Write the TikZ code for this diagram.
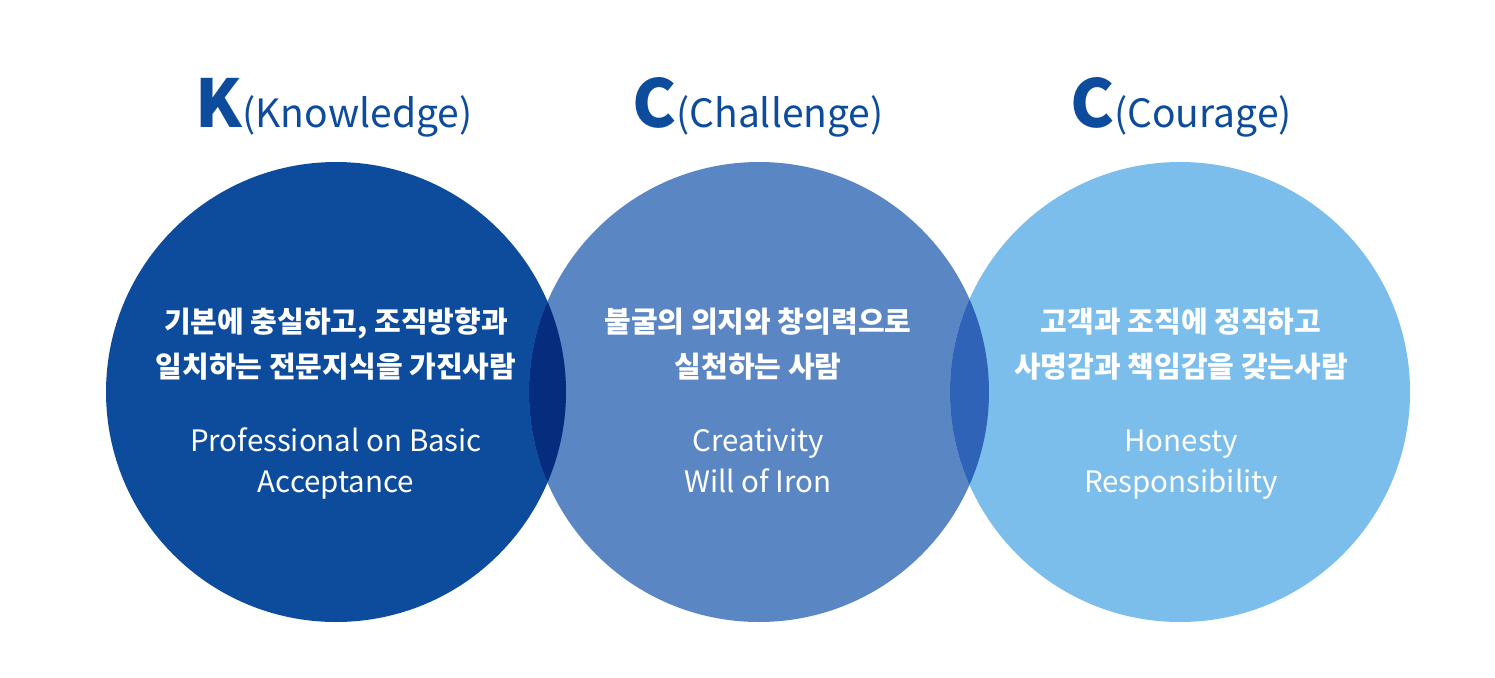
\documentclass[tikz,border=0pt]{standalone}
\usepackage{fontspec}
\setmainfont{Noto Sans CJK KR}
\definecolor{cK}{HTML}{0D4C9C}
\definecolor{cC}{HTML}{5B86C4}
\definecolor{cR}{HTML}{7BBDEB}
\definecolor{lensA}{HTML}{062C7E}
\definecolor{lensB}{HTML}{2E63B8}
\definecolor{titleblue}{HTML}{0D4C9C}
\tikzset{
  bigcircle/.style={circle, minimum size=460pt, inner sep=0pt, outer sep=0pt},
  ko/.style={text=white, font=\bfseries\fontsize{29}{29}\selectfont, anchor=base, inner sep=0pt},
  en/.style={text=white, font=\fontsize{29.5}{29.5}\selectfont, anchor=base, inner sep=0pt},
  ttl/.style={text=titleblue, anchor=base, inner sep=0pt}
}
\newcommand{\bigL}[1]{{\bfseries\fontsize{66}{66}\selectfont #1}}
\newcommand{\smallT}[1]{{\fontsize{39}{39}\selectfont #1}}
\begin{document}
\begin{tikzpicture}[x=1pt,y=-1pt]
\useasboundingbox (0,0) rectangle (1495,677);
\fill[white] (0,0) rectangle (1495,677);
\coordinate (kc) at (336,392);
\coordinate (cc) at (759,392);
\coordinate (rc) at (1180,392);
\node[bigcircle, fill=cK] (kcirc) at (kc) {};
\node[bigcircle, fill=cC] (ccirc) at (cc) {};
\node[bigcircle, fill=cR] (rcirc) at (rc) {};
\begin{scope}
  \clip (kc) circle (230pt);
  \fill[lensA] (cc) circle (230pt);
\end{scope}
\begin{scope}
  \clip (cc) circle (230pt);
  \fill[lensB] (rc) circle (230pt);
\end{scope}
% titles
\node[ttl] (t1) at (334,127) {\bigL{K}\smallT{(Knowledge)}};
\node[ttl] (t2) at (758,127) {\bigL{C}\smallT{(Challenge)}};
\node[ttl] (t3) at (1181,127) {\bigL{C}\smallT{(Courage)}};
% left texts
\node[ko] (k1) at (336,332) {기본에 충실하고, 조직방향과};
\node[ko] (k2) at (336,377) {일치하는 전문지식을 가진사람};
\node[en] (k3) at (336,451) {Professional on Basic};
\node[en] (k4) at (336,492) {Acceptance};
% middle texts
\node[ko] (c1) at (758,332) {불굴의 의지와 창의력으로};
\node[ko] (c2) at (758,377) {실천하는 사람};
\node[en] (c3) at (758,451) {Creativity};
\node[en] (c4) at (758,492) {Will of Iron};
% right texts
\node[ko] (r1) at (1181,332) {고객과 조직에 정직하고};
\node[ko] (r2) at (1181,377) {사명감과 책임감을 갖는사람};
\node[en] (r3) at (1181,451) {Honesty};
\node[en] (r4) at (1181,492) {Responsibility};
\end{tikzpicture}
\end{document}
